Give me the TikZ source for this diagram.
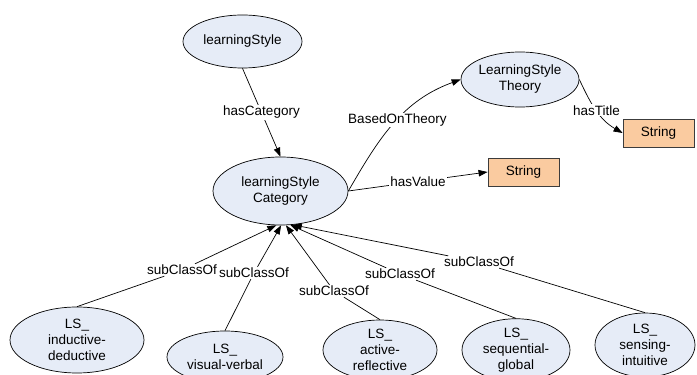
\documentclass[tikz,border=0pt]{standalone}
\usepackage{fontspec}
\setmainfont{Liberation Sans}
\usetikzlibrary{arrows.meta,shapes.geometric}
\definecolor{ellfill}{RGB}{230,236,247}
\definecolor{boxfill}{RGB}{250,203,160}
\definecolor{boxdraw}{RGB}{60,60,60}
\begin{document}
\begin{tikzpicture}[x=1pt,y=1pt,
  txt/.style={font=\fontsize{13.5}{16}\selectfont},
  cls/.style={txt, ellipse, draw=black, fill=ellfill, line width=0.7pt, inner sep=0pt, align=center},
  lit/.style={txt, rectangle, draw=boxdraw, fill=boxfill, line width=0.9pt, minimum width=71pt, minimum height=28pt, inner sep=0pt},
  lbl/.style={txt, fill=white, inner sep=1pt},
  arr/.style={draw=black, line width=0.7pt, -{Triangle[length=9pt,width=6.5pt]}}
]
\useasboundingbox (0,0) rectangle (697,375);

% class nodes
\node[cls, minimum width=119pt, minimum height=53pt] (ls) at (242.5,333.5) {learningStyle};
\node[cls, minimum width=135pt, minimum height=68pt] (cat) at (280.5,184) {learningStyle\\Category};
\node[cls, minimum width=118pt, minimum height=55pt] (theory) at (520,295.5) {LearningStyle\\Theory};
\node[lit] (str1) at (658.5,242) {String};
\node[lit] (str2) at (523.5,203) {String};

\node[cls, minimum width=134pt, minimum height=66pt] (ind) at (77,35) {LS\_\\inductive-\\deductive};
\node[cls, minimum width=116pt, minimum height=52pt] (vis) at (225,18) {LS\_\\visual-verbal};
\node[cls, minimum width=114pt, minimum height=60pt] (act) at (380,25) {LS\_\\active-\\reflective};
\node[cls, minimum width=108pt, minimum height=62pt] (seq) at (516,25) {LS\_\\sequential-\\global};
\node[cls, minimum width=100pt, minimum height=64pt] (sen) at (645,30) {LS\_\\sensing-\\intuitive};

% property edges
\draw[arr] (ls.south) -- node[lbl]{hasCategory} (cat.north);
\draw[arr] (cat.east) to[out=60,in=200] node[lbl,pos=0.53]{BasedOnTheory} (theory.west);
\draw[arr] (cat.east) -- node[lbl]{hasValue} (str2.west);
\draw[arr] (theory.east) to[out=-65,in=150] node[lbl]{hasTitle} (str1.west);

% subClassOf labels
\node[lbl] (l1) at (182,105) {subClassOf};
\node[lbl] (l2) at (254,102) {subClassOf};
\node[lbl] (l3) at (334,84) {subClassOf};
\node[lbl] (l4) at (400,101) {subClassOf};
\node[lbl] (l5) at (479,113) {subClassOf};

\draw[arr] (ind.north) -- (l1) -- (cat.-97.6);
\draw[arr] (vis.north) -- (l2) -- (cat.-89);
\draw[arr] (act.north) -- (l3) -- (cat.-81);
\draw[arr] (seq.north) -- (l4) -- (cat.-74);
\draw[arr] (sen.north) -- (l5) -- (cat.-70);
\end{tikzpicture}
\end{document}
